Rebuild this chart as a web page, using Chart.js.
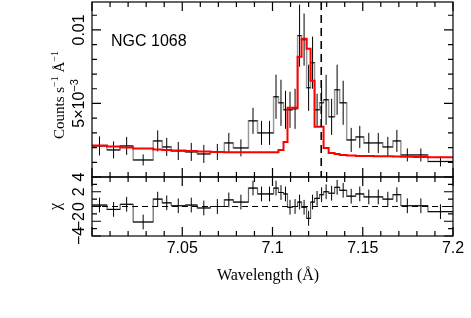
<!DOCTYPE html>
<html>
<head>
<meta charset="utf-8">
<script src="https://cdn.jsdelivr.net/npm/chart.js@4.4.0/dist/chart.umd.min.js"></script>
<style>
html, body { margin: 0; padding: 0; background: #fff; }
</style>
</head>
<body>
<canvas id="spec" width="471" height="318"></canvas>
<script>
var ctx = document.getElementById('spec').getContext('2d');

// grouped bins (Angstrom edges), 39 bins
var binEdges = [7.0000, 7.0083, 7.0156, 7.0228, 7.0339, 7.0389, 7.0439, 7.0517, 7.0583, 7.0656,
                7.0733, 7.0783, 7.0867, 7.0917, 7.0961, 7.1006, 7.1033, 7.1061, 7.1083, 7.1111,
                7.1139, 7.1161, 7.1189, 7.1211, 7.1233, 7.1261, 7.1283, 7.1311, 7.1344, 7.1372,
                7.1411, 7.1461, 7.1506, 7.1561, 7.1611, 7.1667, 7.1711, 7.1783, 7.1861, 7.2000];

// counts s^-1 A^-1
var rate = [0.002114, 0.001841, 0.002114, 0.001159, 0.002454, 0.002045, 0.001773, 0.001705, 0.001568, 0.001705,
            0.002318, 0.001977, 0.003818, 0.003000, 0.003000, 0.005455, 0.005045, 0.004568, 0.004568, 0.004636,
            0.009613, 0.009341, 0.006068, 0.007773, 0.004568, 0.005045, 0.005250, 0.004091, 0.005932, 0.005045,
            0.002523, 0.002727, 0.002318, 0.002318, 0.002045, 0.002454, 0.001500, 0.001500, 0.001057];

var rateErr = [0.000648, 0.000580, 0.000614, 0.000375, 0.000716, 0.000614, 0.000614, 0.000614, 0.000614, 0.000545,
               0.000682, 0.000580, 0.000886, 0.000818, 0.000818, 0.001500, 0.001568, 0.001295, 0.001227, 0.001364,
               0.002114, 0.001773, 0.001568, 0.001773, 0.001091, 0.001091, 0.001705, 0.001227, 0.001705, 0.001500,
               0.000818, 0.000750, 0.000682, 0.000682, 0.000682, 0.000750, 0.000443, 0.000443, 0.000341];

var model = [0.002134, 0.002080, 0.002011, 0.001943, 0.001875, 0.001841, 0.001807, 0.001773, 0.001739, 0.001705,
             0.001691, 0.001684, 0.001684, 0.001684, 0.001684, 0.001684, 0.001841, 0.002386, 0.004705, 0.004705,
             0.008182, 0.009409, 0.008727, 0.006545, 0.003409, 0.003409, 0.001977, 0.001636, 0.001568, 0.001500,
             0.001466, 0.001432, 0.001432, 0.001418, 0.001405, 0.001391, 0.001377, 0.001364, 0.001350];

var chi = [0.2, -0.4, 0.3, -2.1, 1.0, 0.5, 0.1, 0.2, -0.2, 0.0,
           0.9, 0.6, 2.5, 1.7, 1.7, 2.5, 1.9, 1.7, -0.1, 0.0,
           0.6, -0.1, -1.6, 0.6, 1.1, 1.6, 2.0, 1.8, 2.6, 2.2,
           1.4, 1.7, 1.3, 1.3, 1.0, 1.6, 0.1, 0.1, -0.7];

var lineCentre = 7.127;
var yTickLabels = [0.005, 0.01];
var chiTickLabels = [-4, -2, 0, 2, 4];
var xTickLabels = [7.05, 7.1, 7.15, 7.2];

var SANS = '"Liberation Sans", Arial, sans-serif';
var SERIF = '"Liberation Serif", "Times New Roman", serif';

// histogram outline: each bin as a flat segment
function steps(vals) {
    var pts = [];
    for (var i = 0; i < vals.length; i++) {
        pts.push({x: binEdges[i], y: vals[i]});
        pts.push({x: binEdges[i + 1], y: vals[i]});
    }
    return pts;
}

function crosses(chart, vals, errs, axis) {
    var c = chart.ctx, xs = chart.scales.x, ys = chart.scales[axis];
    c.save();
    c.strokeStyle = '#000';
    c.lineWidth = 1;
    for (var i = 0; i < vals.length; i++) {
        var x0 = xs.getPixelForValue(binEdges[i]);
        var x1 = xs.getPixelForValue(binEdges[i + 1]);
        var xm = xs.getPixelForValue((binEdges[i] + binEdges[i + 1]) / 2);
        var y = ys.getPixelForValue(vals[i]);
        var e = errs === null ? 1 : errs[i];
        c.beginPath();
        c.moveTo(x0, y); c.lineTo(x1, y);
        c.moveTo(xm, ys.getPixelForValue(vals[i] - e));
        c.lineTo(xm, ys.getPixelForValue(vals[i] + e));
        c.stroke();
    }
    c.restore();
}

// rotated text (reads bottom to top), parts = [text, font, raise]
function vText(c, parts, x, y) {
    var total = 0;
    parts.forEach(function (p) { c.font = p[1]; p.w = c.measureText(p[0]).width; total += p.w; });
    c.save();
    c.translate(x, y);
    c.rotate(-Math.PI / 2);
    c.textAlign = 'left';
    c.textBaseline = 'alphabetic';
    var pos = -total / 2;
    parts.forEach(function (p) { c.font = p[1]; c.fillText(p[0], pos, -p[2]); pos += p.w; });
    c.restore();
}

var specPlot = {
    id: 'specPlot',
    afterDatasetDraw: function (chart, args) {
        if (args.index === 1) crosses(chart, rate, rateErr, 'y');
        if (args.index === 2) crosses(chart, chi, null, 'y2');
    },
    afterDraw: function (chart) {
        var c = chart.ctx, xs = chart.scales.x, ys = chart.scales.y, yr = chart.scales.y2;
        var L = xs.left, R = xs.right;
        c.save();
        c.strokeStyle = '#000';
        c.fillStyle = '#000';
        c.lineWidth = 1.2;

        // frames
        c.strokeRect(L, ys.top, R - L, ys.bottom - ys.top);
        c.strokeRect(L, yr.top, R - L, yr.bottom - yr.top);

        // x ticks on both panels, every 0.01, major every 0.05
        c.beginPath();
        for (var k = 0; k <= 20; k++) {
            var px = xs.getPixelForValue(7 + k / 100);
            var len = (k % 5 === 0) ? 9 : 5;
            [ys, yr].forEach(function (s) {
                c.moveTo(px, s.top); c.lineTo(px, s.top + len);
                c.moveTo(px, s.bottom); c.lineTo(px, s.bottom - len);
            });
        }
        // y ticks top panel, every 0.001
        for (k = 0; k <= 11; k++) {
            var py = ys.getPixelForValue(k / 1000);
            len = (k % 5 === 0) ? 9 : 5;
            c.moveTo(L, py); c.lineTo(L + len, py);
            c.moveTo(R, py); c.lineTo(R - len, py);
        }
        // y ticks residual panel
        for (k = -4; k <= 4; k++) {
            py = yr.getPixelForValue(k);
            len = (k % 2 === 0) ? 9 : 5;
            c.moveTo(L, py); c.lineTo(L + len, py);
            c.moveTo(R, py); c.lineTo(R - len, py);
        }
        c.stroke();

        // line position
        c.beginPath();
        c.setLineDash([8, 5]);
        c.lineWidth = 1.6;
        var lx = xs.getPixelForValue(lineCentre);
        c.moveTo(lx, ys.top); c.lineTo(lx, ys.bottom);
        c.stroke();

        // chi = 0
        c.beginPath();
        c.setLineDash([6, 4]);
        c.lineWidth = 1;
        var zy = yr.getPixelForValue(0);
        c.moveTo(L, zy); c.lineTo(R, zy);
        c.stroke();
        c.setLineDash([]);

        // x tick labels
        c.font = '16px ' + SANS;
        c.textAlign = 'center';
        c.textBaseline = 'alphabetic';
        xTickLabels.forEach(function (v) {
            c.fillText(String(v), xs.getPixelForValue(v), 253);
        });

        // y tick labels (rotated)
        vText(c, [['0.01', '16px ' + SANS, 0]], 84, ys.getPixelForValue(yTickLabels[1]));
        vText(c, [['5×10', '16px ' + SANS, 0], ['−3', '11px ' + SANS, 6]], 84, ys.getPixelForValue(yTickLabels[0]));
        chiTickLabels.forEach(function (v) {
            vText(c, [[(v < 0 ? '−' : '') + Math.abs(v), '16px ' + SANS, 0]], 84, yr.getPixelForValue(v));
        });

        // axis titles
        vText(c, [['Counts s', '15px ' + SERIF, 0], ['−1', '10px ' + SERIF, 6],
                  [' Å', '15px ' + SERIF, 0], ['−1', '10px ' + SERIF, 6]], 64, 95);
        vText(c, [['χ', '16px ' + SERIF, 0]], 60, yr.getPixelForValue(0));
        c.font = '16px ' + SERIF;
        c.textAlign = 'center';
        c.fillText('Wavelength (Å)', 268, 280);

        c.font = '16px ' + SANS;
        c.textAlign = 'left';
        c.fillText('NGC 1068', 111, 46);
        c.restore();
    }
};

var myChart = new Chart(ctx, {
    type: 'line',
    data: {
        datasets: [{
            label: 'model',
            data: steps(model),
            borderColor: '#ff0000',
            borderWidth: 2,
            yAxisID: 'y'
        }, {
            label: 'data',
            data: steps(rate),
            borderColor: '#9a9a9a',
            borderWidth: 1.5,
            yAxisID: 'y'
        }, {
            label: 'chi',
            data: steps(chi),
            borderColor: '#666666',
            borderWidth: 1.2,
            yAxisID: 'y2'
        }]
    },
    options: {
        responsive: false,
        animation: false,
        layout: { padding: { left: 92, right: 18, top: 2, bottom: 82 } },
        elements: { point: { radius: 0 }, line: { tension: 0 } },
        plugins: { legend: { display: false }, tooltip: { enabled: false } },
        scales: {
            x: { type: 'linear', min: 7.0, max: 7.2, display: false },
            // stacked panels: Chart.js puts the later one on top
            y2: { type: 'linear', min: -4, max: 4, display: false, stack: 'spec', stackWeight: 59 },
            y: { type: 'linear', min: 0, max: 0.0119, display: false, stack: 'spec', stackWeight: 175 }
        }
    },
    plugins: [specPlot]
});
</script>
</body>
</html>
